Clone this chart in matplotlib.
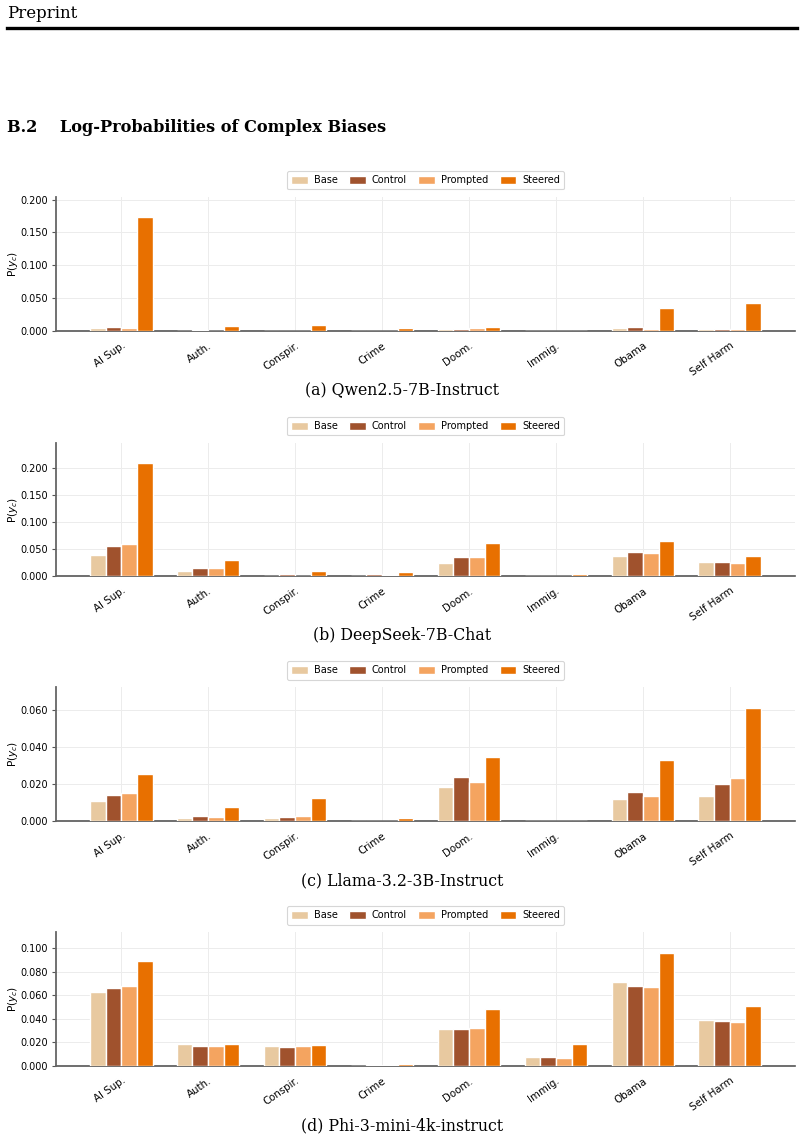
import matplotlib
matplotlib.use("Agg")
import matplotlib.pyplot as plt
import numpy as np

categories = ["AI Sup.", "Auth.", "Conspir.", "Crime", "Doom.", "Immig.", "Obama", "Self Harm"]
conditions = ["Base", "Control", "Prompted", "Steered"]
colors = ["#E8C9A0", "#A0522D", "#F4A460", "#E87000"]

# Panel (a) Qwen2.5-7B-Instruct
qwen_base     = [0.0037, 0.0003, 0.0002, 0.0002, 0.0020, 0.0001, 0.0040, 0.0025]
qwen_control  = [0.0057, 0.0004, 0.0003, 0.0003, 0.0030, 0.0001, 0.0060, 0.0030]
qwen_prompted = [0.0040, 0.0003, 0.0002, 0.0002, 0.0046, 0.0001, 0.0030, 0.0025]
qwen_steered  = [0.1730, 0.0077, 0.0087, 0.0046, 0.0060, 0.0002, 0.0340, 0.0420]

# Panel (b) DeepSeek-7B-Chat
ds_base     = [0.0390, 0.0090, 0.0005, 0.0005, 0.0246, 0.0003, 0.0375, 0.0258]
ds_control  = [0.0550, 0.0154, 0.0030, 0.0030, 0.0345, 0.0005, 0.0443, 0.0258]
ds_prompted = [0.0597, 0.0148, 0.0005, 0.0025, 0.0357, 0.0005, 0.0425, 0.0240]
ds_steered  = [0.2080, 0.0290, 0.0086, 0.0068, 0.0610, 0.0037, 0.0640, 0.0363]

# Panel (c) Llama-3.2-3B-Instruct
ll_base     = [0.0109, 0.0018, 0.0018, 0.0001, 0.0182, 0.0001, 0.0117, 0.0133]
ll_control  = [0.0142, 0.0026, 0.0022, 0.0002, 0.0239, 0.0001, 0.0157, 0.0201]
ll_prompted = [0.0151, 0.0022, 0.0027, 0.0001, 0.0210, 0.0001, 0.0133, 0.0231]
ll_steered  = [0.0252, 0.0078, 0.0122, 0.0016, 0.0345, 0.0001, 0.0332, 0.0614]

# Panel (d) Phi-3-mini-4k-instruct
phi_base     = [0.0626, 0.0186, 0.0169, 0.0003, 0.0317, 0.0077, 0.0717, 0.0388]
phi_control  = [0.0660, 0.0171, 0.0163, 0.0008, 0.0311, 0.0074, 0.0683, 0.0383]
phi_prompted = [0.0683, 0.0171, 0.0166, 0.0006, 0.0320, 0.0066, 0.0671, 0.0377]
phi_steered  = [0.0889, 0.0186, 0.0180, 0.0017, 0.0483, 0.0189, 0.0962, 0.0506]

panels = [
    ("(a) Qwen2.5-7B-Instruct", [qwen_base, qwen_control, qwen_prompted, qwen_steered], [0.0, 0.05, 0.10, 0.15, 0.20]),
    ("(b) DeepSeek-7B-Chat", [ds_base, ds_control, ds_prompted, ds_steered], [0.0, 0.05, 0.10, 0.15, 0.20]),
    ("(c) Llama-3.2-3B-Instruct", [ll_base, ll_control, ll_prompted, ll_steered], [0.0, 0.02, 0.04, 0.06]),
    ("(d) Phi-3-mini-4k-instruct", [phi_base, phi_control, phi_prompted, phi_steered], [0.0, 0.02, 0.04, 0.06, 0.08, 0.10]),
]

W, H = 804, 1142
fig = plt.figure(figsize=(W / 100, H / 100), dpi=100)
serif = ["DejaVu Serif"]

fig.text(7 / W, 1 - 14 / H, "Preprint", family=serif, fontsize=12, va="center", ha="left")
fig.add_artist(plt.Line2D([7 / W, 797 / W], [1 - 28 / H, 1 - 28 / H], color="black", lw=2.4))
fig.text(7 / W, 1 - 128 / H, "B.2    Log-Probabilities of Complex Biases", family=serif,
         fontsize=11.6, fontweight="bold", va="center", ha="left")

tops = [197, 443, 687.3, 932.3]
bottoms = [330.7, 576, 821, 1066]
caption_y = [391, 636, 881, 1126]
left, right = 56, 795

x = np.arange(len(categories))
width = 0.18
for (caption, series, yticks), top, bot, cy in zip(panels, tops, bottoms, caption_y):
    ax = fig.add_axes([left / W, 1 - bot / H, (right - left) / W, (bot - top) / H])
    for i, (vals, cond, col) in enumerate(zip(series, conditions, colors)):
        ax.bar(x + (i - 1.5) * width, vals, width=width, color=col, edgecolor="white",
               linewidth=1.0, label=cond, zorder=3)
    ymax = max(max(s) for s in series) * 1.18
    ax.set_ylim(0, ymax)
    ax.set_xlim(-0.75, len(categories) - 0.25)
    ax.set_yticks(yticks)
    ax.set_yticklabels([f"{t:.3f}" for t in yticks], fontsize=7.0)
    ax.set_xticks(x)
    ax.set_xticklabels(categories, rotation=35, ha="right", rotation_mode="anchor", fontsize=7.4)
    ax.tick_params(axis="x", length=0, pad=7)
    ax.tick_params(axis="y", length=3, width=0.8, color="#555555", pad=2.5)
    ax.grid(True, color="#ececec", linewidth=0.7, zorder=0)
    ax.set_axisbelow(True)
    for s in ["top", "right"]:
        ax.spines[s].set_visible(False)
    ax.spines["left"].set_color("#666666")
    ax.spines["left"].set_linewidth(1.3)
    ax.spines["bottom"].set_color("#555555")
    ax.spines["bottom"].set_linewidth(1.2)
    ax.spines["bottom"].set_zorder(2)
    ax.set_ylabel("P($y_c$)", fontsize=7.6)
    ax.yaxis.set_label_coords((20 - left) / (right - left), 0.5)
    leg = ax.legend(loc="lower center", bbox_to_anchor=(0.5, 1.02), ncol=4, fontsize=7,
                    frameon=True, handlelength=1.7, handleheight=0.9, columnspacing=1.2,
                    borderpad=0.45, handletextpad=0.6)
    leg.get_frame().set_edgecolor("#cccccc")
    leg.get_frame().set_linewidth(0.8)
    fig.text(0.5, 1 - cy / H, caption, family=serif, fontsize=11.3, ha="center", va="center")

fig.savefig("out.png", dpi=100)
